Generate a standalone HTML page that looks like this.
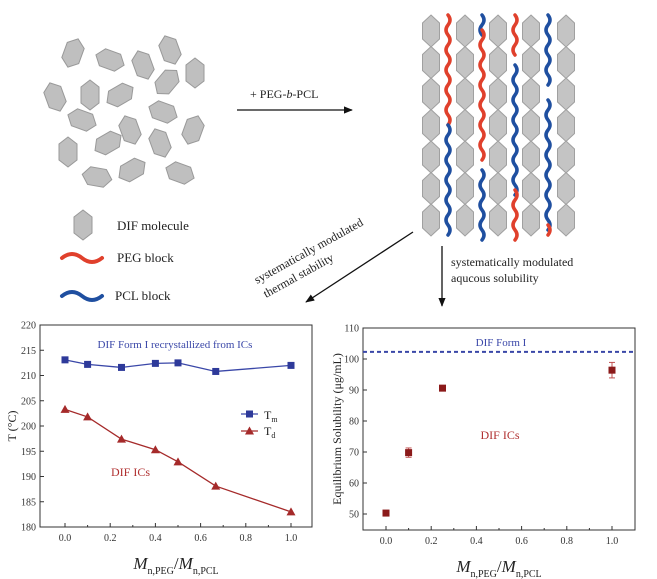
<!DOCTYPE html>
<html><head><meta charset="utf-8"><style>
html,body{margin:0;padding:0;background:#fff}
svg{display:block;font-family:"Liberation Serif",serif}
</style></head><body>
<svg id="fig" width="657" height="579" viewBox="0 0 657 579" xmlns="http://www.w3.org/2000/svg">
<defs>
<marker id="ah" viewBox="0 0 10 10" refX="9" refY="5" markerWidth="7" markerHeight="7" orient="auto"><path d="M0,1 L10,5 L0,9 Z" fill="#111"/></marker>
<polygon id="hex" points="0,-15 9,-8 9,8 0,15 -9,8 -9,-8" fill="#bfbfbf" stroke="#999" stroke-width="1"/>
<polygon id="phex" points="0,-16 8.5,-8 8.5,8 0,16 -8.5,8 -8.5,-8" fill="#c4c4c4" stroke="#a0a0a0" stroke-width="1"/>
</defs>
<g id="scatter"></g>
<g id="pack"></g>
<g>
<use href="#hex" x="83" y="225"/>
<text x="117" y="230" font-size="13" fill="#222">DIF molecule</text>
<path d="M62,258 q10,-8 20,0 t20,0" fill="none" stroke="#e0402c" stroke-width="4" stroke-linecap="round"/>
<text x="117" y="262" font-size="13" fill="#222">PEG block</text>
<path d="M62,296 q10,-8 20,0 t20,0" fill="none" stroke="#1f4fa0" stroke-width="4" stroke-linecap="round"/>
<text x="115" y="300" font-size="13" fill="#222">PCL block</text>
</g>
<g>
<line x1="237" y1="110" x2="352" y2="110" stroke="#111" stroke-width="1.3" marker-end="url(#ah)"/>
<text x="250" y="98" font-size="12" fill="#222">+ PEG-<tspan font-style="italic">b</tspan>-PCL</text>
</g>
<g>
<line x1="413" y1="232" x2="306" y2="302" stroke="#111" stroke-width="1.3" marker-end="url(#ah)"/>
<text transform="translate(257,284) rotate(-29)" font-size="12" fill="#222">systematically modulated</text>
<text transform="translate(266,298) rotate(-29)" font-size="12" fill="#222">thermal stability</text>
</g>
<g>
<line x1="442" y1="246" x2="442" y2="306" stroke="#111" stroke-width="1.3" marker-end="url(#ah)"/>
<text x="451" y="266" font-size="12" fill="#222">systematically modulated</text>
<text x="451" y="282" font-size="12" fill="#222">aqucous solubility</text>
</g>
<g id="left"></g>
<g id="right"></g>
</svg>
<script>
const NS="http://www.w3.org/2000/svg";
// thermal chart data
const ratios=[0,0.1,0.25,0.4,0.5,0.667,1.0];
const tmValues=[213.1,212.2,211.6,212.4,212.5,210.8,212.0];
const tdValues=[203.3,201.8,197.4,195.3,192.9,188.1,183.0];
const tYTicks=[180,185,190,195,200,205,210,215,220];
const xTicks=[0.0,0.2,0.4,0.6,0.8,1.0];
// solubility chart data
const solRatios=[0,0.1,0.25,1.0];
const solValues=[50.3,69.8,90.6,96.4];
const solErrors=[0.6,1.5,0.8,2.5];
const solYTicks=[50,60,70,80,90,100,110];
const formIValue=102.3;

function el(tag,attrs,parent){const e=document.createElementNS(NS,tag);for(const k in attrs)e.setAttribute(k,attrs[k]);parent.appendChild(e);return e;}

const sc=document.getElementById('scatter');
[[73,53,20],[110,60,-70],[143,65,-20],[170,50,-20],[195,73,0],[167,82,40],[55,97,-20],[90,95,0],[120,95,60],[82,120,110],[163,112,110],[130,130,-20],[108,143,60],[160,143,-20],[193,130,20],[68,152,0],[97,177,100],[132,170,60],[180,173,110]].forEach(h=>{
 const u=el('use',{href:'#hex',transform:`translate(${h[0]},${h[1]}) rotate(${h[2]})`},sc);
 
 
});
const pk=document.getElementById('pack');
[431,465,498,531,566].forEach(cx=>{for(let r=0;r<7;r++){el('use',{href:'#phex',x:cx,y:31+r*31.5},pk);}});
function chain(x,y1,y2,col){let d=`M${x},${y1}`;let s=1;for(let y=y1;y<y2;y+=10){d+=` q${4*s},5 0,10`;s=-s;}el('path',{d:d,fill:'none',stroke:col,'stroke-width':3.5,'stroke-linecap':'round'},pk);}
const R='#e0402c',B='#1f4fa0';
chain(448,15,125,R);chain(448,125,235,B);
chain(482,15,30,B);chain(482,30,160,R);chain(482,170,235,B);
chain(515,15,55,R);chain(515,65,190,B);chain(515,190,235,R);
chain(548,15,85,B);chain(548,100,225,B);chain(548,225,235,R);

function axesFrame(g,x0,x1,y0,y1,xs,ys,yt){
 el('rect',{x:x0,y:y0,width:x1-x0,height:y1-y0,fill:'none',stroke:'#333','stroke-width':1},g);
 yt.forEach(v=>{const y=ys(v);el('line',{x1:x0,y1:y,x2:x0+4,y2:y,stroke:'#333'},g);
  const t=el('text',{x:x0-4,y:y+3.5,'font-size':10,'text-anchor':'end',fill:'#333'},g);t.textContent=v;
  });
 xTicks.forEach(v=>{const x=xs(v);el('line',{x1:x,y1:y1,x2:x,y2:y1-4,stroke:'#333'},g);
  const t=el('text',{x:x,y:y1+14,'font-size':10,'text-anchor':'middle',fill:'#333'},g);t.textContent=v.toFixed(1);
  });
 [0.1,0.3,0.5,0.7,0.9].forEach(v=>{const x=xs(v);el('line',{x1:x,y1:y1,x2:x,y2:y1-2,stroke:'#333'},g);});
 const t=el('text',{x:(x0+x1)/2,y:y1+42,'font-size':17,'text-anchor':'middle',fill:'#222'},g);
 t.innerHTML='<tspan font-style="italic">M</tspan><tspan font-size="10" dy="5">n,PEG</tspan><tspan dy="-5">/</tspan><tspan font-style="italic">M</tspan><tspan font-size="10" dy="5">n,PCL</tspan>';
 
}
(function(){
 const g=document.getElementById('left');
 const x0=40,x1=312,y0=325,y1=527;
 const xs=v=>65+v*226, ys=v=>527-(v-180)/40*202;
 axesFrame(g,x0,x1,y0,y1,xs,ys,tYTicks);
 const yt=el('text',{transform:'translate(16,426) rotate(-90)','font-size':12,'text-anchor':'middle',fill:'#222'},g);yt.textContent='T (°C)';
 
 let a=el('text',{x:175,y:348,'font-size':11,'text-anchor':'middle',fill:'#3a47a8'},g);a.textContent='DIF Form I recrystallized from ICs';
 
 a=el('text',{x:111,y:476,'font-size':12,fill:'#b03030'},g);a.textContent='DIF ICs';
 
 const tm=el('polyline',{points:ratios.map((r,i)=>xs(r)+','+ys(tmValues[i])).join(' '),fill:'none',stroke:'#3a47a8','stroke-width':1.3},g);
 
 const td=el('polyline',{points:ratios.map((r,i)=>xs(r)+','+ys(tdValues[i])).join(' '),fill:'none',stroke:'#a52a2a','stroke-width':1.3},g);
 
 ratios.forEach((r,i)=>{
  const s=el('rect',{x:xs(r)-3.5,y:ys(tmValues[i])-3.5,width:7,height:7,fill:'#2e3a9a'},g);
  
  const x=xs(r),y=ys(tdValues[i]);
  const p=el('polygon',{points:`${x},${y-4.5} ${x+4.5},${y+3.5} ${x-4.5},${y+3.5}`,fill:'#a52a2a'},g);
  
 });
 el('line',{x1:241,y1:414,x2:258,y2:414,stroke:'#3a47a8','stroke-width':1.3},g);
 el('rect',{x:246,y:410.5,width:7,height:7,fill:'#2e3a9a'},g);
 let l=el('text',{x:264,y:419,'font-size':12,fill:'#222'},g);l.innerHTML='T<tspan font-size="8" dy="3">m</tspan>';
 
 el('line',{x1:241,y1:431,x2:258,y2:431,stroke:'#a52a2a','stroke-width':1.3},g);
 el('polygon',{points:'249.5,426.5 254,434.5 245,434.5',fill:'#a52a2a'},g);
 l=el('text',{x:264,y:435,'font-size':12,fill:'#222'},g);l.innerHTML='T<tspan font-size="8" dy="3">d</tspan>';
 
})();
(function(){
 const g=document.getElementById('right');
 const x0=363,x1=635,y0=328,y1=530;
 const xs=v=>386+v*226, ys=v=>514-(v-50)*3.1;
 axesFrame(g,x0,x1,y0,y1,xs,ys,solYTicks);
 const yt=el('text',{transform:'translate(341,429) rotate(-90)','font-size':12,'text-anchor':'middle',fill:'#222'},g);yt.textContent='Equilibrium Solubility (μg/mL)';
 
 const dl=el('line',{x1:x0,y1:ys(formIValue),x2:x1,y2:ys(formIValue),stroke:'#3a47a8','stroke-width':2,'stroke-dasharray':'4,3'},g);
 
 let a=el('text',{x:501,y:346,'font-size':11,'text-anchor':'middle',fill:'#3a47a8'},g);a.textContent='DIF Form I';
 
 a=el('text',{x:500,y:439,'font-size':12,'text-anchor':'middle',fill:'#b03030'},g);a.textContent='DIF ICs';
 
 solRatios.forEach((r,i)=>{
  const x=xs(r),y=ys(solValues[i]),e=solErrors[i]*3.1;
  el('line',{x1:x,y1:y-e,x2:x,y2:y+e,stroke:'#c05050','stroke-width':1},g);
  el('line',{x1:x-3,y1:y-e,x2:x+3,y2:y-e,stroke:'#c05050'},g);
  el('line',{x1:x-3,y1:y+e,x2:x+3,y2:y+e,stroke:'#c05050'},g);
  const s=el('rect',{x:x-3.5,y:y-3.5,width:7,height:7,fill:'#8b1a1a'},g);
  
 });
})();
</script>
</body></html>
